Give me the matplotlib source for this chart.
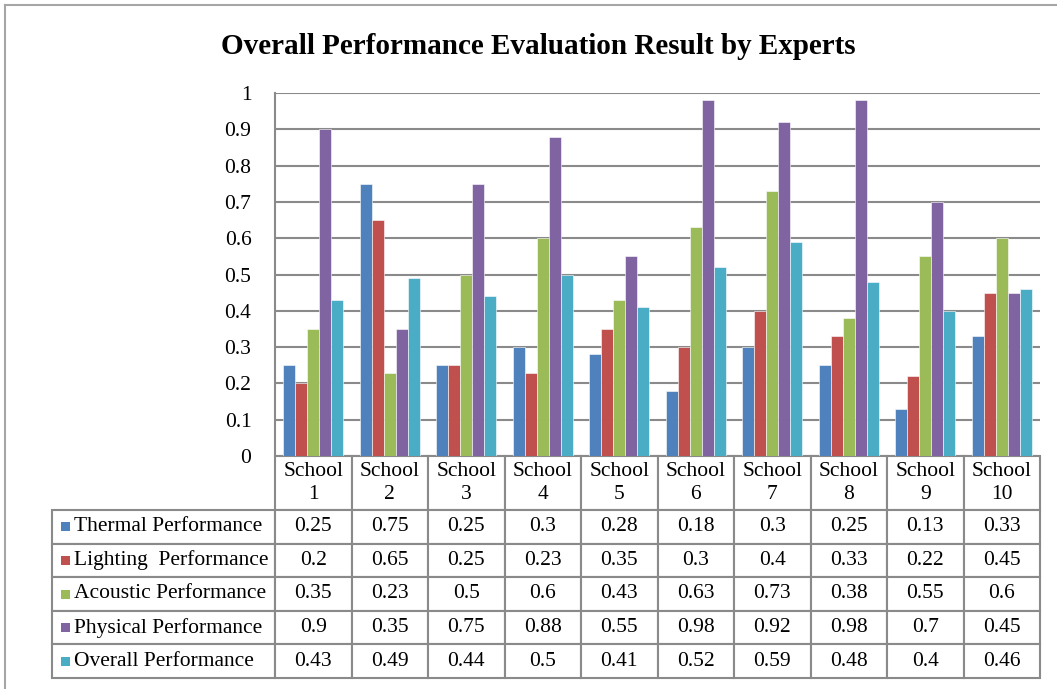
import numpy as np
import matplotlib
matplotlib.use('Agg')
import matplotlib.pyplot as plt
from matplotlib.table import Table
from matplotlib.patches import Rectangle
from matplotlib.lines import Line2D

plt.rcParams['font.family'] = ['Liberation Serif', 'DejaVu Serif']

schools = ['School\n1', 'School\n2', 'School\n3', 'School\n4', 'School\n5',
           'School\n6', 'School\n7', 'School\n8', 'School\n9', 'School\n10']
series_names = ['Thermal Performance', 'Lighting  Performance', 'Acoustic Performance',
                'Physical Performance', 'Overall Performance']
thermal  = [0.25, 0.75, 0.25, 0.3, 0.28, 0.18, 0.3, 0.25, 0.13, 0.33]
lighting = [0.2, 0.65, 0.25, 0.23, 0.35, 0.3, 0.4, 0.33, 0.22, 0.45]
acoustic = [0.35, 0.23, 0.5, 0.6, 0.43, 0.63, 0.73, 0.38, 0.55, 0.6]
physical = [0.9, 0.35, 0.75, 0.88, 0.55, 0.98, 0.92, 0.98, 0.7, 0.45]
overall  = [0.43, 0.49, 0.44, 0.5, 0.41, 0.52, 0.59, 0.48, 0.4, 0.46]
yticks = [0, 0.1, 0.2, 0.3, 0.4, 0.5, 0.6, 0.7, 0.8, 0.9, 1]

series = [thermal, lighting, acoustic, physical, overall]
colors = ['#4F81BD', '#C0504D', '#9BBB59', '#8064A2', '#4BACC6']
grid_col = '#8a8a8a'
fs = 15.5

W, H = 1057, 689
fig = plt.figure(figsize=(W/100., H/100.), dpi=100)
# plot area in pixels: x 275..1040, y 93..456
ax = fig.add_axes([275./W, 1-456./H, 765./W, 363./H])

n = len(schools)
x = np.arange(n)
bw = 0.157
for i, vals in enumerate(series):
    ax.bar(x + (i-2)*bw, vals, width=bw, color=colors[i], edgecolor='white',
           linewidth=0.4, zorder=3)

ax.set_xlim(-0.5, n-0.5)
ax.set_ylim(0, 1)
ax.set_yticks(yticks)
ax.set_yticklabels([('%g' % t) for t in yticks], fontsize=fs)
ax.tick_params(axis='y', length=0, pad=17)
ax.set_xticks([])
ax.grid(axis='y', color=grid_col, linewidth=1.5, zorder=0)
for s in ['top', 'right', 'bottom']:
    ax.spines[s].set_visible(False)
ax.spines['left'].set_color(grid_col)
ax.spines['left'].set_linewidth(1.5)

fig.text(538./W, 1-46./H, 'Overall Performance Evaluation Result by Experts',
         ha='center', va='center', fontsize=21, fontweight='bold')

# data table underneath the plot
px_w, px_h = 765., 363.
lab_w = 223./px_w
col_w = 1./n
head_h = 54./px_h
row_h = 33.6/px_h
tab_h = head_h + 5*row_h
tb = Table(ax, bbox=[-lab_w, -tab_h, 1+lab_w, tab_h])
for j in range(n):
    tb.add_cell(0, j+1, col_w, head_h, text=schools[j], loc='center',
                edgecolor=grid_col)
for r in range(5):
    tb.add_cell(r+1, 0, lab_w, row_h, text=series_names[r], loc='left',
                edgecolor=grid_col)
    for j in range(n):
        tb.add_cell(r+1, j+1, col_w, row_h, text=str(series[r][j]), loc='center',
                    edgecolor=grid_col)
tb.auto_set_font_size(False)
tb.set_fontsize(fs)
for key, cell in tb.get_celld().items():
    cell.set_linewidth(1.5)
    cell.get_text().set_linespacing(1.3)
ax.add_table(tb)

# legend keys inside the row label cells
sw = 9./px_w
for r in range(5):
    yc = -head_h - (r+0.5)*row_h
    ax.add_patch(Rectangle((-(275.-61.)/px_w, yc - 4.5/px_h), sw, 9./px_h,
                           transform=ax.transAxes, clip_on=False,
                           facecolor=colors[r], edgecolor='none', zorder=5))

# outer frame (top and left edges visible)
fig.add_artist(Line2D([5./W, 1], [1-5./H, 1-5./H], color='#a6a6a6', linewidth=1.5))
fig.add_artist(Line2D([5./W, 5./W], [0, 1-5./H], color='#a6a6a6', linewidth=1.5))

plt.savefig('out.png', dpi=100)
